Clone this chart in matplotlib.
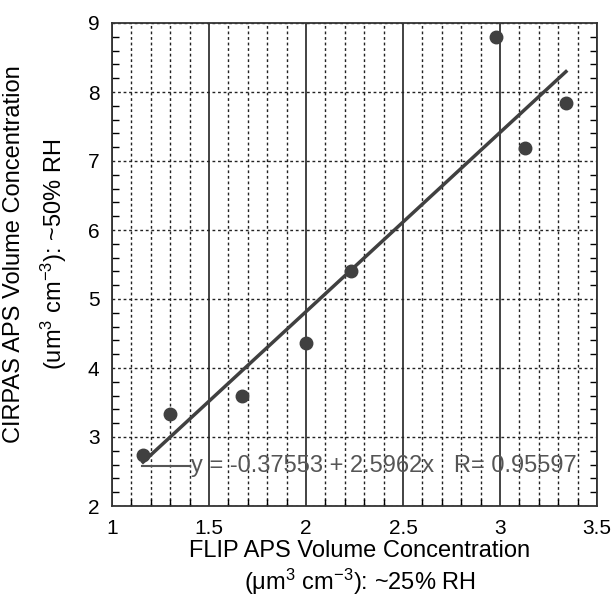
import numpy as np
import matplotlib.pyplot as plt
from matplotlib.ticker import MultipleLocator

plt.rcParams['font.family'] = ['Liberation Sans', 'DejaVu Sans']
plt.rcParams['mathtext.fontset'] = 'custom'
plt.rcParams['mathtext.rm'] = 'Liberation Sans'
plt.rcParams['mathtext.it'] = 'Liberation Sans'

# FLIP vs CIRPAS volume concentrations
flip = [1.16, 1.30, 1.67, 2.00, 2.23, 2.98, 3.13, 3.34]
cirpas = [2.74, 3.34, 3.60, 4.36, 5.41, 8.80, 7.19, 7.84]
intercept = -0.37553
slope = 2.5962
r_value = 0.95597

col = '#404040'

fig = plt.figure(figsize=(6.16, 6.04), dpi=100)
ax = fig.add_axes([112 / 616, 1 - 506 / 604, 485 / 616, 483 / 604])

ax.set_xlim(1, 3.5)
ax.set_ylim(2, 9)

# grid: solid every 0.5 in x, dotted every 0.1 in x and every 1 in y
ax.xaxis.set_major_locator(MultipleLocator(0.5))
ax.xaxis.set_minor_locator(MultipleLocator(0.1))
ax.yaxis.set_major_locator(MultipleLocator(1))
ax.yaxis.set_minor_locator(MultipleLocator(0.2))
ax.grid(axis='x', which='major', color='#222222', linestyle='-', linewidth=1.2)
ax.grid(axis='x', which='minor', color='#222222', linestyle=(0, (2, 2)), linewidth=1.0)
ax.grid(axis='y', which='major', color='#222222', linestyle=(0, (2, 2)), linewidth=1.0)

ax.tick_params(which='both', direction='in', left=True, right=True,
               bottom=True, top=False, labelsize=15, pad=9)
ax.tick_params(which='major', length=0)
ax.tick_params(which='minor', length=5, width=1)
for s in ax.spines.values():
    s.set_linewidth(1.3)
    s.set_color('#333333')

ax.xaxis.set_major_formatter(plt.FuncFormatter(lambda v, p: '%g' % v))

ax.plot(flip, cirpas, 'o', color=col, markersize=9, zorder=3)
xf = np.array([min(flip), max(flip)])
ax.plot(xf, intercept + slope * xf, '-', color=col, linewidth=2.5, zorder=3)

# fit annotation
ax.plot([1.155, 1.40], [2.58, 2.58], '-', color='#555555', linewidth=1.5)
ax.text(1.405, 2.58, 'y = -0.37553 + 2.5962x   R= %.5f' % r_value,
        fontsize=17, color='#555555', va='center', ha='left')

# axis titles, two lines each
fig.text(360 / 616, 1 - 551 / 604, 'FLIP APS Volume Concentration',
         fontsize=17, ha='center', va='center')
fig.text(360 / 616, 1 - 582 / 604, '($\\mu$m$^3$ cm$^{-3}$): ~25% RH',
         fontsize=17, ha='center', va='center')
fig.text(14 / 616, 1 - 254 / 604, 'CIRPAS APS Volume Concentration',
         fontsize=17, ha='center', va='center', rotation=90)
fig.text(54 / 616, 1 - 254 / 604, '(um$^3$ cm$^{-3}$): ~50% RH',
         fontsize=17, ha='center', va='center', rotation=90)

fig.savefig('out.png', dpi=100)
